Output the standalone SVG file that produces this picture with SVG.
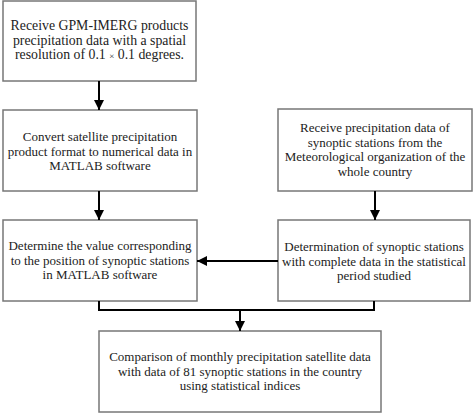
<svg xmlns="http://www.w3.org/2000/svg" width="474" height="413" viewBox="0 0 474 413">
<style>
.box{fill:#fff;stroke:#777;stroke-width:1.5}
.t{font-family:"Liberation Serif","Times New Roman",serif;font-size:13px;fill:#222;text-anchor:middle}
.t1{font-size:13.8px}
.c{fill:none;stroke:#000;stroke-width:2}
</style>
<defs>
<marker id="ah" markerUnits="userSpaceOnUse" markerWidth="12" markerHeight="12" refX="10" refY="5" orient="auto">
<path d="M0,0 L10,5 L0,10 Z" fill="#000"/>
</marker>
</defs>
<rect width="474" height="413" fill="#fff"/>
<g id="n1">
<rect class="box" x="3" y="1" width="193" height="80"/>
<text class="t t1" x="99.5" y="30">Receive GPM-IMERG products</text>
<text class="t t1" x="99.5" y="44.5">precipitation data with a spatial</text>
<text class="t t1" x="99.5" y="59">resolution of 0.1 <tspan font-size="9">×</tspan> 0.1 degrees.</text>
</g>
<g id="n2">
<rect class="box" x="3" y="110" width="194" height="81"/>
<text class="t" x="100" y="141">Convert satellite precipitation</text>
<text class="t" x="100" y="155.5">product format to numerical data in</text>
<text class="t" x="100" y="170">MATLAB software</text>
</g>
<g id="n3">
<rect class="box" x="3" y="220" width="194" height="81"/>
<text class="t" x="100" y="250">Determine the value corresponding</text>
<text class="t" x="100" y="264.5">to the position of synoptic stations</text>
<text class="t" x="100" y="279">in MATLAB software</text>
</g>
<g id="n4">
<rect class="box" x="278" y="109" width="194" height="82"/>
<text class="t" x="375" y="132">Receive precipitation data of</text>
<text class="t" x="375" y="146.5">synoptic stations from the</text>
<text class="t" x="375" y="161">Meteorological organization of the</text>
<text class="t" x="375" y="175.5">whole country</text>
</g>
<g id="n6">
<rect class="box" x="278" y="220" width="192" height="81"/>
<text class="t" x="374" y="251">Determination of synoptic stations</text>
<text class="t" x="374" y="265.5">with complete data in the statistical</text>
<text class="t" x="374" y="280">period studied</text>
</g>
<g id="n5">
<rect class="box" x="99" y="331" width="282" height="81"/>
<text class="t" x="240" y="361">Comparison of monthly precipitation satellite data</text>
<text class="t" x="240" y="375.5">with data of 81 synoptic stations in the country</text>
<text class="t" x="240" y="390">using statistical indices</text>
</g>
<g id="connectors">
<line class="c" x1="99" y1="81" x2="99" y2="110" marker-end="url(#ah)"/>
<line class="c" x1="99" y1="191" x2="99" y2="220" marker-end="url(#ah)"/>
<line class="c" x1="375" y1="191" x2="375" y2="220" marker-end="url(#ah)"/>
<line class="c" x1="278" y1="261" x2="197" y2="261" marker-end="url(#ah)"/>
<polyline class="c" points="99,301 99,310 374,310 374,301"/>
<line class="c" x1="240" y1="310" x2="240" y2="331" marker-end="url(#ah)"/>
</g>
</svg>
